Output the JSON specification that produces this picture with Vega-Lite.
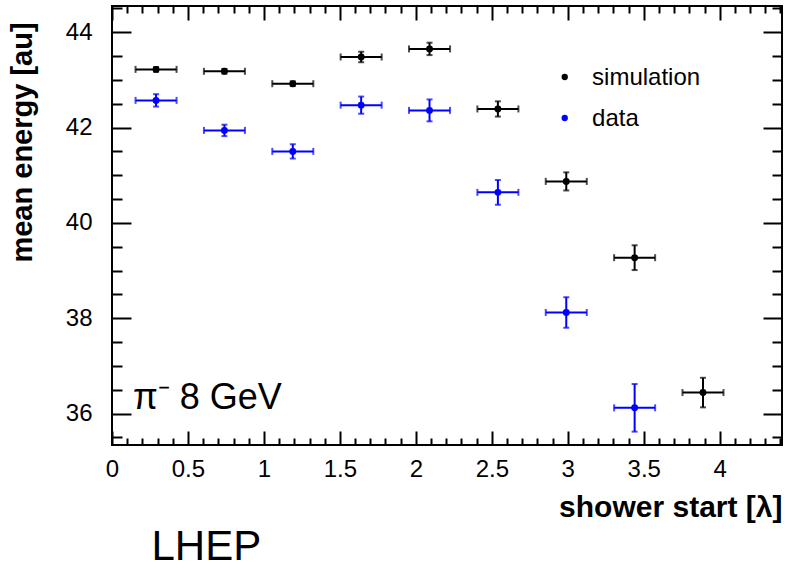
{
  "$schema": "https://vega.github.io/schema/vega-lite/v6.json",
  "autosize": "none",
  "width": 670,
  "height": 439,
  "padding": {"left": 112, "top": 6, "right": 3, "bottom": 123},
  "background": "white",
  "config": {
    "view": {"stroke": "black", "strokeWidth": 2},
    "font": "Liberation Sans",
    "axis": {"grid": false, "domain": false, "tickColor": "black", "tickWidth": 2, "labelFont": "Liberation Sans", "labelColor": "black", "labelFlush": false, "labelOverlap": false, "titleFont": "Liberation Sans", "titleColor": "black"}
  },
  "data": {
    "values": [
      {"series": "simulation", "x": 0.29, "y": 43.22, "xlo": 0.155, "xhi": 0.425, "ylo": 43.17, "yhi": 43.27},
      {"series": "simulation", "x": 0.74, "y": 43.18, "xlo": 0.605, "xhi": 0.875, "ylo": 43.13, "yhi": 43.23},
      {"series": "simulation", "x": 1.19, "y": 42.92, "xlo": 1.055, "xhi": 1.325, "ylo": 42.87, "yhi": 42.97},
      {"series": "simulation", "x": 1.64, "y": 43.48, "xlo": 1.505, "xhi": 1.775, "ylo": 43.37, "yhi": 43.59},
      {"series": "simulation", "x": 2.09, "y": 43.65, "xlo": 1.955, "xhi": 2.225, "ylo": 43.52, "yhi": 43.78},
      {"series": "simulation", "x": 2.54, "y": 42.39, "xlo": 2.405, "xhi": 2.675, "ylo": 42.23, "yhi": 42.55},
      {"series": "simulation", "x": 2.99, "y": 40.87, "xlo": 2.855, "xhi": 3.125, "ylo": 40.68, "yhi": 41.06},
      {"series": "simulation", "x": 3.44, "y": 39.27, "xlo": 3.305, "xhi": 3.575, "ylo": 39.01, "yhi": 39.53},
      {"series": "simulation", "x": 3.89, "y": 36.44, "xlo": 3.755, "xhi": 4.025, "ylo": 36.13, "yhi": 36.75},
      {"series": "data", "x": 0.29, "y": 42.57, "xlo": 0.155, "xhi": 0.425, "ylo": 42.44, "yhi": 42.70},
      {"series": "data", "x": 0.74, "y": 41.94, "xlo": 0.605, "xhi": 0.875, "ylo": 41.82, "yhi": 42.06},
      {"series": "data", "x": 1.19, "y": 41.50, "xlo": 1.055, "xhi": 1.325, "ylo": 41.35, "yhi": 41.65},
      {"series": "data", "x": 1.64, "y": 42.47, "xlo": 1.505, "xhi": 1.775, "ylo": 42.29, "yhi": 42.65},
      {"series": "data", "x": 2.09, "y": 42.36, "xlo": 1.955, "xhi": 2.225, "ylo": 42.13, "yhi": 42.59},
      {"series": "data", "x": 2.54, "y": 40.64, "xlo": 2.405, "xhi": 2.675, "ylo": 40.38, "yhi": 40.90},
      {"series": "data", "x": 2.99, "y": 38.12, "xlo": 2.855, "xhi": 3.125, "ylo": 37.80, "yhi": 38.44},
      {"series": "data", "x": 3.44, "y": 36.12, "xlo": 3.305, "xhi": 3.575, "ylo": 35.62, "yhi": 36.62}
    ]
  },
  "resolve": {"axis": {"x": "independent", "y": "independent"}},
  "layer": [
    {
      "mark": {"type": "rule", "strokeWidth": 2},
      "encoding": {
        "x": {"field": "xlo", "type": "quantitative", "scale": {"domain": [0, 4.41], "nice": false, "zero": false},
          "axis": {"orient": "bottom", "values": [0, 0.5, 1, 1.5, 2, 2.5, 3, 3.5, 4], "format": "~g", "ticks": false, "labelFontSize": 24, "labelPadding": 12, "title": "shower start [λ]", "titleFontSize": 30, "titleFontWeight": "bold", "titleAlign": "right", "titleAnchor": "end", "titleX": 670, "titleY": 71, "titleBaseline": "alphabetic"}},
        "x2": {"field": "xhi"},
        "y": {"field": "y", "type": "quantitative", "scale": {"domain": [35.34, 44.55], "nice": false, "zero": false},
          "axis": {"orient": "left", "values": [36, 38, 40, 42, 44], "format": "~g", "ticks": false, "labelFontSize": 24, "labelPadding": 20, "title": "mean energy [au]", "titleFontSize": 29, "titleFontWeight": "bold", "titleAngle": -90, "titleAlign": "center", "titleBaseline": "alphabetic", "titleX": -81, "titleY": 136}},
        "color": {"field": "series", "type": "nominal", "scale": {"domain": ["simulation", "data"], "range": ["black", "#0000ff"]}, "legend": null}
      }
    },
    {
      "mark": {"type": "rule", "strokeWidth": 2},
      "encoding": {
        "x": {"field": "x", "type": "quantitative", "axis": {"orient": "bottom", "values": [0, 0.5, 1, 1.5, 2, 2.5, 3, 3.5, 4], "tickSize": -14, "labels": false, "title": null}},
        "y": {"field": "ylo", "type": "quantitative", "axis": {"orient": "left", "values": [36, 38, 40, 42, 44], "tickSize": -19, "labels": false, "title": null}},
        "y2": {"field": "yhi"},
        "color": {"field": "series", "type": "nominal", "legend": null}
      }
    },
    {
      "mark": {"type": "tick", "orient": "vertical", "size": 7, "thickness": 2},
      "encoding": {
        "x": {"field": "xlo", "type": "quantitative", "axis": {"orient": "bottom", "values": [0.1,0.2,0.3,0.4,0.6,0.7,0.8,0.9,1.1,1.2,1.3,1.4,1.6,1.7,1.8,1.9,2.1,2.2,2.3,2.4,2.6,2.7,2.8,2.9,3.1,3.2,3.3,3.4,3.6,3.7,3.8,3.9,4.1,4.2,4.3,4.4], "tickSize": -7, "labels": false, "title": null}},
        "y": {"field": "y", "type": "quantitative", "axis": {"orient": "left", "values": [35.5,36.5,37,37.5,38.5,39,39.5,40.5,41,41.5,42.5,43,43.5,44.5], "tickSize": -10, "labels": false, "title": null}},
        "color": {"field": "series", "type": "nominal", "legend": null}
      }
    },
    {
      "mark": {"type": "tick", "orient": "vertical", "size": 7, "thickness": 2},
      "encoding": {
        "x": {"field": "xhi", "type": "quantitative", "axis": {"orient": "top", "values": [0, 0.5, 1, 1.5, 2, 2.5, 3, 3.5, 4], "tickSize": -14, "labels": false, "title": null}},
        "y": {"field": "y", "type": "quantitative", "axis": {"orient": "right", "values": [36, 38, 40, 42, 44], "tickSize": -19, "labels": false, "title": null}},
        "color": {"field": "series", "type": "nominal", "legend": null}
      }
    },
    {
      "mark": {"type": "tick", "orient": "horizontal", "size": 6, "thickness": 2},
      "encoding": {
        "x": {"field": "x", "type": "quantitative", "axis": {"orient": "top", "values": [0.1,0.2,0.3,0.4,0.6,0.7,0.8,0.9,1.1,1.2,1.3,1.4,1.6,1.7,1.8,1.9,2.1,2.2,2.3,2.4,2.6,2.7,2.8,2.9,3.1,3.2,3.3,3.4,3.6,3.7,3.8,3.9,4.1,4.2,4.3,4.4], "tickSize": -7, "labels": false, "title": null}},
        "y": {"field": "ylo", "type": "quantitative", "axis": {"orient": "right", "values": [35.5,36.5,37,37.5,38.5,39,39.5,40.5,41,41.5,42.5,43,43.5,44.5], "tickSize": -10, "labels": false, "title": null}},
        "color": {"field": "series", "type": "nominal", "legend": null}
      }
    },
    {
      "mark": {"type": "tick", "orient": "horizontal", "size": 6, "thickness": 2},
      "encoding": {
        "x": {"field": "x", "type": "quantitative", "axis": null},
        "y": {"field": "yhi", "type": "quantitative", "axis": null},
        "color": {"field": "series", "type": "nominal", "legend": null}
      }
    },
    {
      "mark": {"type": "point", "filled": true, "shape": "circle", "size": 48, "opacity": 1},
      "encoding": {
        "x": {"field": "x", "type": "quantitative", "axis": null},
        "y": {"field": "y", "type": "quantitative", "axis": null},
        "color": {"field": "series", "type": "nominal", "legend": null}
      }
    },
    {
      "data": {"values": [{"series": "simulation", "lx": 2.98, "ly": 43.06}, {"series": "data", "lx": 2.98, "ly": 42.20}]},
      "mark": {"type": "point", "filled": true, "shape": "circle", "size": 40, "opacity": 1},
      "encoding": {
        "x": {"field": "lx", "type": "quantitative", "axis": null},
        "y": {"field": "ly", "type": "quantitative", "axis": null},
        "color": {"field": "series", "type": "nominal", "legend": null}
      }
    },
    {
      "data": {"values": [{"series": "simulation", "lx": 3.16, "ly": 43.03}, {"series": "data", "lx": 3.16, "ly": 42.17}]},
      "mark": {"type": "text", "fontSize": 24, "font": "Liberation Sans", "align": "left", "baseline": "middle", "color": "black"},
      "encoding": {
        "x": {"field": "lx", "type": "quantitative", "axis": null},
        "y": {"field": "ly", "type": "quantitative", "axis": null},
        "text": {"field": "series"}
      }
    },
    {
      "data": {"values": [{"label": "π⁻ 8 GeV", "x": 0.138, "y": 36.10}]},
      "mark": {"type": "text", "fontSize": 36, "font": "Liberation Sans", "align": "left", "baseline": "alphabetic", "color": "black"},
      "encoding": {
        "x": {"field": "x", "type": "quantitative", "axis": null},
        "y": {"field": "y", "type": "quantitative", "axis": null},
        "text": {"field": "label"}
      }
    },
    {
      "data": {"values": [{"label": "LHEP", "x": 0.26, "y": 32.93}]},
      "mark": {"type": "text", "fontSize": 42, "font": "Liberation Sans", "align": "left", "baseline": "alphabetic", "color": "black"},
      "encoding": {
        "x": {"field": "x", "type": "quantitative", "axis": null},
        "y": {"field": "y", "type": "quantitative", "axis": null},
        "text": {"field": "label"}
      }
    }
  ]
}
